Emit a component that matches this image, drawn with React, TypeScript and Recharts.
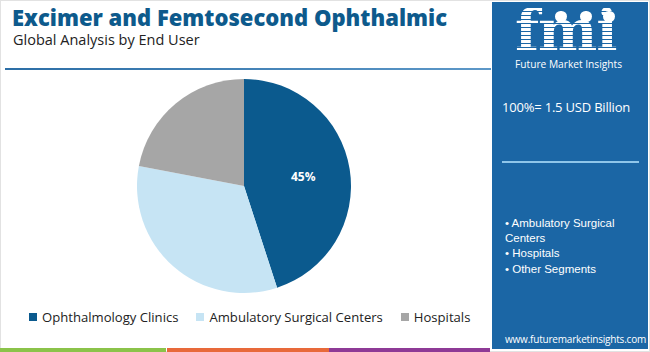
import React from "react";
import { PieChart, Pie, Cell, Legend } from "recharts";

const categories = ["Ophthalmology Clinics", "Ambulatory Surgical Centers", "Hospitals"];
const shares = [45, 33, 22];
const sliceColors = ["#0b5a8e", "#c6e4f4", "#a6a6a6"];
const panelBullets = ["Ambulatory Surgical", "Centers", "Hospitals", "Other Segments"];
const totalLabel = "100%= 1.5 USD Billion";

const data = categories.map((name, i) => ({ name, value: shares[i] }));

const RAD = Math.PI / 180;
const renderLabel = (props: any) => {
  const { cx, cy, midAngle, outerRadius, index, value } = props;
  if (index !== 0) return null;
  const r = outerRadius * 0.56;
  const x = cx + r * Math.cos(-midAngle * RAD);
  const y = cy + r * Math.sin(-midAngle * RAD);
  return (
    <text x={x} y={y} fill="#ffffff" textAnchor="middle" dominantBaseline="central"
      style={{ fontFamily: "Open Sans", fontWeight: 700, fontSize: 12 }}>
      {value}%
    </text>
  );
};

const renderLegend = () => {
  return (
    <div style={{ display: "flex", fontFamily: "Open Sans", fontSize: 13.1, color: "#222", whiteSpace: "nowrap" }}>
      {categories.map((name, i) => (
        <div key={i} style={{ display: "flex", alignItems: "center", marginRight: 18 }}>
          <span style={{ display: "inline-block", width: 8, height: 8, background: sliceColors[i], marginRight: 5 }} />
          <span>{name}</span>
        </div>
      ))}
    </div>
  );
};

export default function App() {
  return (
    <div style={{ position: "absolute", left: 0, top: 0, width: 650, height: 352, background: "#fff", overflow: "hidden", fontFamily: "Open Sans" }}>
      <div style={{ position: "absolute", left: 0, top: 0, width: 648, height: 350, border: "1px solid #e2e2e2" }} />
      <div style={{ position: "absolute", left: 12, top: 5, fontSize: 22, lineHeight: "24px", fontWeight: 800, color: "#0d5a8c", whiteSpace: "nowrap" }}>
        Excimer and Femtosecond Ophthalmic
      </div>
      <div style={{ position: "absolute", left: 13, top: 32, fontSize: 14.5, lineHeight: "16px", color: "#222", whiteSpace: "nowrap" }}>
        Global Analysis by End User
      </div>
      <div style={{ position: "absolute", left: 5, top: 68, width: 486, height: 2, background: "linear-gradient(90deg, #2c6ea6, #5d98c8)" }} />

      <div style={{ position: "absolute", left: 0, top: 0 }}>
        <PieChart width={490} height={352} margin={{ top: 0, right: 0, bottom: 0, left: 0 }}>
          <Pie data={data} dataKey="value" nameKey="name" cx={244} cy={186} outerRadius={107}
            startAngle={90} endAngle={-270} stroke="none" isAnimationActive={false}
            label={renderLabel} labelLine={false}>
            {data.map((_, i) => (
              <Cell key={i} fill={sliceColors[i]} />
            ))}
          </Pie>
          <Legend content={renderLegend} wrapperStyle={{ position: "absolute", left: 29, top: 308, width: 470 }} />
        </PieChart>
      </div>

      <div style={{ position: "absolute", left: 0, top: 348, width: 166, height: 4, background: "#8bc34a" }} />
      <div style={{ position: "absolute", left: 167, top: 348, width: 162, height: 4, background: "#e8693a" }} />
      <div style={{ position: "absolute", left: 329, top: 348, width: 161, height: 4, background: "#8e3a96" }} />

      <div style={{ position: "absolute", left: 492, top: 2, width: 156, height: 347, background: "#1b66a5", color: "#fff" }}>
        <div style={{ position: "absolute", left: 23, top: 2, fontFamily: "DejaVu Serif", fontWeight: 700, fontSize: 56, letterSpacing: -1, lineHeight: "52px",
          backgroundImage: "repeating-linear-gradient(180deg, #fff 0px, #fff 3px, #1b66a5 3px, #1b66a5 4px)", WebkitBackgroundClip: "text", backgroundClip: "text", color: "transparent" }}>
          fmi
        </div>
        <div style={{ position: "absolute", left: 63, top: 9, width: 12, height: 11, borderRadius: 6, background: "#fff" }} />
        <div style={{ position: "absolute", left: 88, top: 9, width: 12, height: 11, borderRadius: 6, background: "#fff" }} />
        <div style={{ position: "absolute", left: 111, top: 9, width: 12, height: 11, borderRadius: 6, background: "#fff" }} />
        <div style={{ position: "absolute", left: 23, top: 56, fontSize: 10.2, lineHeight: "13px", whiteSpace: "nowrap" }}>Future Market Insights</div>
        <div style={{ position: "absolute", left: 10, top: 96, fontSize: 13, letterSpacing: -0.2, whiteSpace: "nowrap" }}>{totalLabel}</div>
        <div style={{ position: "absolute", left: 10, top: 159, width: 137, height: 2, background: "#8fc6ea" }} />
        <div style={{ position: "absolute", left: 13, top: 214, fontSize: 11.5, lineHeight: "15px", fontFamily: "Liberation Sans" }}>
          <div>• {panelBullets[0]}</div>
          <div>{panelBullets[1]}</div>
          <div>• {panelBullets[2]}</div>
          <div style={{ marginTop: 1 }}>• {panelBullets[3]}</div>
        </div>
        <div style={{ position: "absolute", left: 13, top: 330, fontSize: 10, letterSpacing: -0.2, whiteSpace: "nowrap" }}>www.futuremarketinsights.com</div>
      </div>
    </div>
  );
}
